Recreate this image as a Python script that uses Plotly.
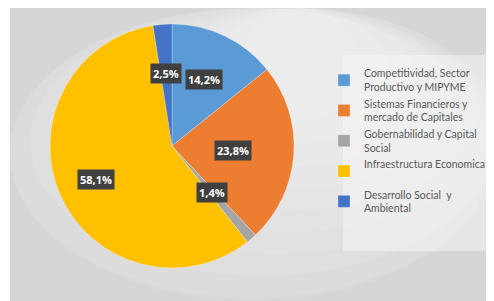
import math
import plotly.graph_objects as go

categories = [
    "Competitividad, Sector<br>Productivo y MIPYME",
    "Sistemas Financieros y<br>mercado de Capitales",
    "Gobernabilidad y Capital<br>Social",
    "Infraestructura Economica<br> ",
    "Desarrollo Social  y<br>Ambiental",
]
values = [14.2, 23.8, 1.4, 58.1, 2.5]
value_labels = ["14,2%", "23,8%", "1,4%", "58,1%", "2,5%"]
colors = ["#5B9BD5", "#ED7D31", "#A5A5A5", "#FFC000", "#4472C4"]
label_radius = [0.6, 0.5, 0.5, 0.68, 0.6]

# page body has an 8px margin; figure sized to fit the 494x301 window
OFF = 8
W, H = 494 - OFF, 301 - OFF


def fx(px):
    return (px - OFF) / W


def fy(py):
    return 1 - (py - OFF) / H


cx_px, cy_px, r_px = 172, 146, 122  # screen pixels

fig = go.Figure()
fig.add_trace(go.Pie(
    labels=categories,
    values=values,
    sort=False,
    direction="clockwise",
    rotation=0,
    marker=dict(colors=colors, line=dict(color="rgba(255,255,255,0.5)", width=0.5)),
    textinfo="none",
    hoverinfo="label+percent",
    domain=dict(x=[fx(cx_px - r_px), fx(cx_px + r_px)], y=[fy(cy_px + r_px), fy(cy_px - r_px)]),
))

total = sum(values)
cum = 0.0
annotations = []
for v, lab, f in zip(values, value_labels, label_radius):
    mid = (cum + v / 2) / total * 2 * math.pi
    cum += v
    px = cx_px + f * r_px * math.sin(mid)
    py = cy_px - f * r_px * math.cos(mid)
    annotations.append(dict(
        x=fx(px), y=fy(py), xref="paper", yref="paper",
        xanchor="center", yanchor="middle",
        text="<b>" + lab + "</b>", showarrow=False,
        font=dict(family="Open Sans", size=11, color="white"),
        bgcolor="#404040", borderpad=2,
    ))

shapes = [
    dict(type="rect", xref="paper", yref="paper", x0=fx(10), x1=1, y0=0, y1=1,
         fillcolor="#d6d6d6", line=dict(width=0), layer="below"),
]
# soft radial glow
gxp, gyp = 300, 60
for i in range(10):
    rx = 330 - i * 30
    ry = 260 - i * 22
    shapes.append(dict(
        type="circle", xref="paper", yref="paper",
        x0=max(fx(gxp - rx), fx(10)), x1=min(fx(gxp + rx), 1),
        y0=max(fy(gyp + ry), 0), y1=min(fy(gyp - ry), 1),
        fillcolor="rgba(255,255,255,0.09)", line=dict(width=0), layer="below",
    ))
shapes.append(dict(type="rect", xref="paper", yref="paper", x0=fx(343), x1=1,
                   y0=fy(251), y1=fy(55),
                   fillcolor="rgba(245,245,245,0.55)", line=dict(width=0), layer="below"))

fig.update_layout(
    width=W, height=H,
    margin=dict(l=0, r=0, t=0, b=0, autoexpand=False),
    paper_bgcolor="white",
    plot_bgcolor="white",
    shapes=shapes,
    annotations=annotations,
    showlegend=True,
    legend=dict(
        x=fx(324), y=fy(60), xanchor="left", yanchor="top",
        bgcolor="rgba(0,0,0,0)",
        font=dict(family="Lato", size=10.5, color="#595959"),
        itemwidth=30, tracegroupgap=0,
    ),
)

fig.write_html("out.html")
